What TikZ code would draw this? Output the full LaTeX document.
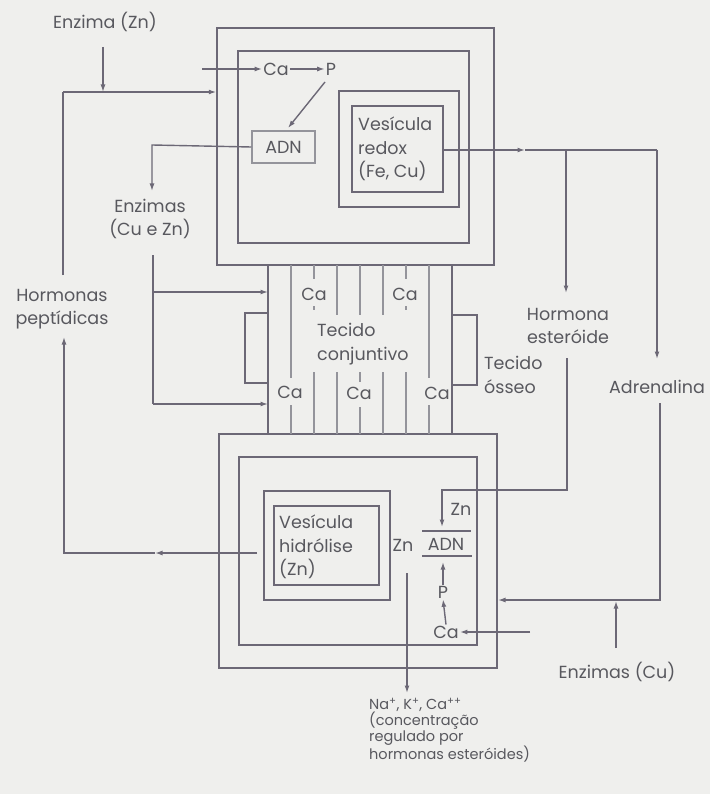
\documentclass[tikz,border=0pt]{standalone}
\usepackage{fontspec}
\setmainfont{Poppins}
\usetikzlibrary{arrows.meta}
\definecolor{bgc}{RGB}{239,239,237}
\definecolor{lnc}{RGB}{108,104,118}
\definecolor{txc}{RGB}{88,88,94}
\definecolor{tlc}{RGB}{148,148,155}
\begin{document}
\begin{tikzpicture}[x=1pt,y=-1pt,
  cellbox/.style={draw=lnc,line width=1.5pt,inner sep=0pt,fill=none},
  lab/.style={text=txc,font=\fontsize{17.5}{23.5}\selectfont,align=center,inner sep=1pt},
  smalllab/.style={text=txc,font=\fontsize{14.5}{15.8}\selectfont,align=left,inner sep=0pt},
  conn/.style={draw=lnc,line width=1.4pt},
  arr/.style={conn,-{Latex[length=7.5pt,width=5pt]}},
  tissue/.style={draw=tlc,line width=1.2pt}]
\fill[bgc] (0,0) rectangle (710,794);
\useasboundingbox (0,0) rectangle (710,794);

% ---------- top cell ----------
\node[cellbox,minimum width=277pt,minimum height=237pt] (topOuter) at (355.5,146.5) {};
\node[cellbox,minimum width=231pt,minimum height=192pt] (topMid) at (353.5,147) {};
\node[cellbox,minimum width=120pt,minimum height=116pt] (topVesOut) at (399,149) {};
\node[cellbox,minimum width=91pt,minimum height=86pt] (topVesIn) at (397.5,149) {};
\node[lab,align=left,anchor=west] (vr) at (357,149) {Vesícula\\redox\\(Fe, Cu)};
\node[cellbox,draw=tlc,minimum width=63pt,minimum height=32pt,lab] (adn1) at (283.5,147) {ADN};
\node[lab] (ca1) at (276,69) {Ca};
\node[lab] (p1) at (331,69) {P};

% ---------- bottom cell ----------
\node[cellbox,minimum width=278pt,minimum height=234pt] (botOuter) at (358,551) {};
\node[cellbox,minimum width=238pt,minimum height=188pt] (botMid) at (358,551) {};
\node[cellbox,minimum width=126pt,minimum height=109pt] (botVesOut) at (327,545.5) {};
\node[cellbox,minimum width=105pt,minimum height=79pt] (botVesIn) at (326.5,545.5) {};
\node[lab,align=left,anchor=west] (vh) at (278,547) {Vesícula\\hidrólise\\(Zn)};
\node[lab] (zn2) at (403,545) {Zn};
\node[lab] (adn2) at (446,544) {ADN};
\coordinate (ol) at (422,531); \coordinate (or) at (471,531);
\coordinate (ul) at (422,556); \coordinate (ur) at (472,556);
\draw[conn] (ol) -- (or);
\draw[conn] (ul) -- (ur);
\node[lab] (zn3) at (461,509) {Zn};
\node[lab] (p2) at (443,592) {P};
\node[lab] (ca2) at (446,632) {Ca};

% ---------- tissue ----------
\foreach \x in {268,452} \draw[tissue,draw=lnc] (\x,265) -- (\x,434);
\foreach \x in {291,429} {\draw[tissue] (\x,265) -- (\x,378); \draw[tissue] (\x,405) -- (\x,434);}
\foreach \x in {314,406} {\draw[tissue] (\x,265) -- (\x,279); \draw[tissue] (\x,306) -- (\x,310); \draw[tissue] (\x,372) -- (\x,434);}
\foreach \x in {337,383} {\draw[tissue] (\x,265) -- (\x,315); \draw[tissue] (\x,372) -- (\x,434);}
\draw[tissue] (360,265) -- (360,315); \draw[tissue] (360,372) -- (360,382); \draw[tissue] (360,407) -- (360,434);
\node[lab] (cat1) at (314,294) {Ca};
\node[lab] (cat2) at (405,294) {Ca};
\node[lab] (cat3) at (290,392) {Ca};
\node[lab] (cat4) at (359,393) {Ca};
\node[lab] (cat5) at (437,393) {Ca};
\node[lab,align=left,anchor=west] (tc) at (316,344) {Tecido\\conjuntivo};
% brackets
\draw[conn] (268,313) -- (245,313) -- (245,383) -- (268,383);
\draw[conn] (452,315) -- (477,315) -- (477,385) -- (452,385);
\node[lab,align=left,anchor=west] (to) at (483,375) {Tecido\\ósseo};

% ---------- outside labels ----------
\node[lab] (enzZn) at (105,22) {Enzima (Zn)};
\node[lab] (ecz) at (150,219) {Enzimas\\(Cu e Zn)};
\node[lab] (hp) at (62,309) {Hormonas\\peptídicas};
\node[lab] (he) at (568,326) {Hormona\\esteróide};
\node[lab] (adr) at (657,387) {Adrenalina};
\node[lab] (ecu) at (617,672) {Enzimas (Cu)};
\node[smalllab,anchor=north west] (na) at (369,698) {Na\textsuperscript{+}, K\textsuperscript{+}, Ca\textsuperscript{++}\\(concentração\\regulado por\\hormonas esteróides)};

% ---------- connectors ----------
\coordinate (hpTop) at (63,275);
\coordinate (jA) at (63,92);
\coordinate (jB) at (103,92);
\coordinate (e1) at (103,47);
\draw[conn] (hpTop) -- (jA);
\draw[arr] (jA) -- (topOuter.west |- jA);
\draw[arr] (e1) -- (jB);
\coordinate (c0) at (202,69);
\draw[arr] (c0) -- (ca1.west);
\draw[arr] (ca1.east) -- (p1.west);
\coordinate (pS) at (325,82); \coordinate (aN) at (288,128);
\draw[arr] (pS) -- (aN);
\coordinate (k1) at (152,145); \coordinate (k2) at (152,191);
\draw[arr] (adn1.west) -- (k1) -- (k2);
\coordinate (k3) at (153,255); \coordinate (k4) at (153,292); \coordinate (k5) at (153,404);
\draw[conn] (k3) -- (k5);
\draw[arr] (k4) -- (268,292);
\draw[arr] (k5) -- (268,404);

% redox vesicle output
\coordinate (r1) at (525,150); \coordinate (r2) at (566,150); \coordinate (r3) at (657,150);
\coordinate (r4) at (566,293); \coordinate (r5) at (657,359);
\draw[arr] (topVesIn.east |- r1) -- (r1);
\draw[conn] (r1) -- (r3);
\draw[arr] (r2) -- (r4);
\draw[arr] (r3) -- (r5);
% hormona esteroide to bottom ADN
\coordinate (s1) at (567,358); \coordinate (s2) at (567,490); \coordinate (s3) at (442,490); \coordinate (s4) at (442,527);
\draw[arr] (s1) -- (s2) -- (s3) -- (s4);
% adrenalina to bottom cell
\coordinate (d1) at (660,403); \coordinate (d2) at (660,600); \coordinate (d3) at (498,600);
\draw[arr] (d1) -- (d2) -- (d3);
\coordinate (u1) at (616,648); \coordinate (u2) at (616,601);
\draw[arr] (u1) -- (u2);
% Ca -> P -> ADN bottom
\coordinate (cIn) at (530,632);
\draw[arr] (cIn) -- (ca2.east);
\draw[arr] (ca2.north) -- (p2.south);
\coordinate (aS) at (443,562);
\draw[arr] (p2.north) -- (aS);
% ions out
\coordinate (n1) at (407,573); \coordinate (n2) at (407,693);
\draw[arr] (n1) -- (n2);
% hidrolise to hormonas peptidicas
\coordinate (h1) at (257,553); \coordinate (h2) at (155,553); \coordinate (h3) at (64,553); \coordinate (h4) at (64,337);
\draw[arr] (h1) -- (h2);
\draw[arr] (h2) -- (h3) -- (h4);
\end{tikzpicture}
\end{document}
